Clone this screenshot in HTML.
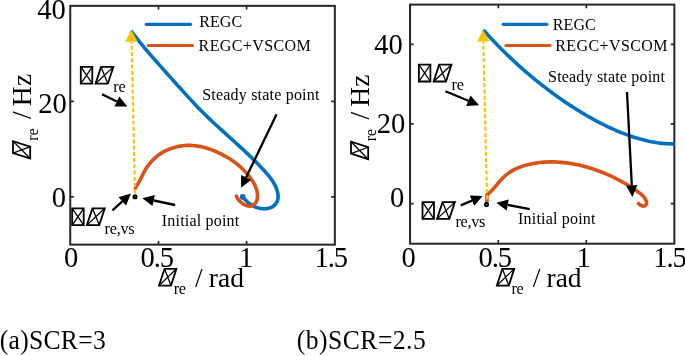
<!DOCTYPE html>
<html><head><meta charset="utf-8"><title>figure</title>
<style>
html,body{margin:0;padding:0;background:#fff;}
svg{display:block;}
text{font-family:"Liberation Serif",serif;fill:#000;}
</style></head>
<body>
<svg width="685" height="356" viewBox="0 0 685 356">
<rect width="685" height="356" fill="#fff"/>
<rect x="70.25" y="5.85" width="264.6" height="238.8" fill="none" stroke="#262626" stroke-width="2"/>
<path d="M158.5,244.6v-3.6M158.5,5.85v3.6" stroke="#262626" stroke-width="1.7" fill="none"/>
<path d="M246.6,244.6v-3.6M246.6,5.85v3.6" stroke="#262626" stroke-width="1.7" fill="none"/>
<path d="M70.25,101.3h3.6M334.8,101.3h-3.6" stroke="#262626" stroke-width="1.7" fill="none"/>
<path d="M70.25,196.9h3.6M334.8,196.9h-3.6" stroke="#262626" stroke-width="1.7" fill="none"/>
<path d="M130.9,30.8L133.0,33.5L135.1,36.2L137.2,38.9L139.3,41.6L141.5,44.2L143.7,46.8L145.9,49.5L148.1,52.1L150.3,54.6L152.5,57.2L154.8,59.8L157.0,62.3L159.3,64.9L161.6,67.4L163.8,70.0L166.1,72.5L168.4,75.1L170.7,77.6L172.9,80.2L175.2,82.7L177.5,85.2L179.8,87.8L182.1,90.3L184.4,92.9L186.7,95.4L189.0,97.9L191.3,100.4L193.6,102.9L196.0,105.4L198.4,107.9L200.7,110.3L203.2,112.7L205.6,115.1L208.0,117.5L210.5,119.9L213.0,122.2L215.5,124.5L218.0,126.8L220.5,129.1L223.0,131.4L225.6,133.7L228.1,136.0L230.6,138.3L233.2,140.5L235.7,142.8L238.2,145.1L240.7,147.4L243.3,149.7L245.7,152.1L248.2,154.4L250.7,156.8L253.1,159.2L255.6,161.6L258.0,164.0L260.3,166.5L262.7,169.0L265.0,171.5L267.3,174.1L269.5,176.7L271.5,179.5L273.4,182.3L275.1,185.3L276.4,188.4L277.5,191.8L278.1,195.2L278.0,198.6L277.0,201.8L275.2,204.5L272.7,206.6L269.6,208.1L266.2,208.8L262.8,208.8L259.4,208.3L256.1,207.3L252.9,205.8L250.0,204.0L247.3,201.8L244.9,199.4L242.8,196.9" stroke="#0072BD" stroke-width="3.6" fill="none" stroke-linecap="butt" stroke-linejoin="round"/>
<circle cx="242.7" cy="196.9" r="2.8" fill="#0072BD"/>
<path d="M135.3,188.6L136.3,186.3L137.7,184.2L139.0,182.1L140.2,179.9L141.3,177.7L142.4,175.4L143.5,173.2L144.6,170.9L145.9,168.8L147.3,166.7L148.7,164.7L150.3,162.8L151.9,160.9L153.7,159.2L155.5,157.5L157.4,155.9L159.4,154.4L161.5,153.1L163.6,151.8L165.8,150.7L168.1,149.6L170.4,148.7L172.8,147.9L175.2,147.2L177.6,146.6L180.1,146.1L182.6,145.8L185.1,145.5L187.6,145.4L190.1,145.4L192.5,145.5L195.0,145.7L197.5,146.1L199.9,146.5L202.3,147.0L204.7,147.6L207.1,148.3L209.5,149.1L211.8,149.9L214.1,150.8L216.5,151.8L218.7,152.8L221.0,153.9L223.2,155.1L225.4,156.3L227.6,157.5L229.7,158.8L231.8,160.2L233.9,161.7L235.9,163.1L237.8,164.7L239.7,166.3L241.6,168.0L243.3,169.7L245.1,171.5L246.7,173.3L248.3,175.2L249.9,177.2L251.3,179.2L252.7,181.3L253.9,183.4L255.1,185.7L256.0,187.9L256.8,190.3L257.3,192.8L257.5,195.3L257.4,197.9L256.9,200.4L255.8,202.7L254.2,204.6L252.2,205.8L249.9,206.3L247.5,205.9L245.0,205.0L242.8,203.7L240.8,202.1L239.0,200.4L237.6,198.4L236.4,196.2" stroke="#D95319" stroke-width="3.6" fill="none" stroke-linecap="round" stroke-linejoin="round"/>
<path d="M135,193.3 L131.6,41.7" stroke="#FFC000" stroke-width="2.1" stroke-dasharray="4.1 2.133" fill="none"/>
<path d="M131.4,29.9 L125.2,41.7 L137.7,41.7 Z" fill="#FFC000"/>
<path d="M146.3,24.3H190.5" stroke="#0072BD" stroke-width="3.2" stroke-linecap="round"/>
<path d="M148.2,45.5H192.5" stroke="#D95319" stroke-width="3.2" stroke-linecap="round"/>
<text transform="translate(199.2 27) scale(0.92 1)" font-size="17.44" textLength="46.74" lengthAdjust="spacing">REGC</text>
<text transform="translate(198.6 50.7) scale(0.92 1)" font-size="17.44" textLength="121.96" lengthAdjust="spacing">REGC+VSCOM</text>
<circle cx="135" cy="196.8" r="1.5" fill="#fff" stroke="#000" stroke-width="2.1"/>
<path d="M112.5,210.3L122.3,201.4" stroke="#000" stroke-width="2.3" fill="none"/>
<path d="M130.9,193.6L126.1,205.5L118.5,197.2Z" fill="#000"/>
<path d="M175.2,205.0L153.7,200.5" stroke="#000" stroke-width="2.3" fill="none"/>
<path d="M142.3,198.2L154.8,195.1L152.5,206.0Z" fill="#000"/>
<text transform="translate(161.8 226) scale(0.92 1)" font-size="17.44" textLength="84.13" lengthAdjust="spacing">Initial point</text>
<text transform="translate(202.2 99.9) scale(0.92 1)" font-size="17.44" textLength="127.39" lengthAdjust="spacing">Steady state point</text>
<path d="M276.6,114.2L246.1,177.4" stroke="#000" stroke-width="2.3" fill="none"/>
<path d="M241.1,187.8L241.1,174.9L251.2,179.8Z" fill="#000"/>
<path d="M80.80,83.70 L92.30,83.70 L92.30,66.90 L80.80,66.90Z" fill="none" stroke="#000" stroke-width="1.8" stroke-linejoin="miter"/>
<path d="M80.80,83.70L92.30,66.90M92.30,83.70L80.80,66.90" fill="none" stroke="#000" stroke-width="1.3"/>
<path d="M95.54,83.70 L107.85,83.70 L113.36,66.90 L101.05,66.90Z" fill="none" stroke="#000" stroke-width="1.8" stroke-linejoin="miter"/>
<path d="M95.54,83.70L113.36,66.90M107.85,83.70L101.05,66.90" fill="none" stroke="#000" stroke-width="1.3"/>
<text transform="translate(113.3 92.1) scale(1.0 1)" font-size="16.30" textLength="12.40" lengthAdjust="spacing">re</text>
<path d="M102.0,94.3L116.9,101.5" stroke="#000" stroke-width="2.3" fill="none"/>
<path d="M127.3,106.6L114.4,106.6L119.3,96.5Z" fill="#000"/>
<path d="M72.20,225.10 L83.70,225.10 L83.70,208.30 L72.20,208.30Z" fill="none" stroke="#000" stroke-width="1.8" stroke-linejoin="miter"/>
<path d="M72.20,225.10L83.70,208.30M83.70,225.10L72.20,208.30" fill="none" stroke="#000" stroke-width="1.3"/>
<path d="M86.94,225.10 L99.25,225.10 L104.76,208.30 L92.45,208.30Z" fill="none" stroke="#000" stroke-width="1.8" stroke-linejoin="miter"/>
<path d="M86.94,225.10L104.76,208.30M99.25,225.10L92.45,208.30" fill="none" stroke="#000" stroke-width="1.3"/>
<text transform="translate(104.5 233.9) scale(1.0 1)" font-size="16.30" textLength="30.20" lengthAdjust="spacing">re,vs</text>
<text transform="translate(65.7 18.7) scale(0.98 1)" font-size="29.17" text-anchor="end">40</text>
<text transform="translate(66.9 112.8) scale(0.98 1)" font-size="29.17" text-anchor="end">20</text>
<text transform="translate(66.1 207.1) scale(0.98 1)" font-size="29.17" text-anchor="end">0</text>
<text transform="translate(71.2 266.8) scale(0.98 1)" font-size="29.17" text-anchor="middle">0</text>
<text transform="translate(157.3 266.9) scale(0.98 1)" font-size="29.17" text-anchor="middle" textLength="34.18" lengthAdjust="spacing">0.5</text>
<text transform="translate(246.1 266.7) scale(0.98 1)" font-size="29.17" text-anchor="middle">1</text>
<text transform="translate(331.2 266.9) scale(0.98 1)" font-size="29.17" text-anchor="middle" textLength="34.18" lengthAdjust="spacing">1.5</text>
<path d="M159.04,285.60 L170.95,285.60 L176.46,268.80 L164.55,268.80Z" fill="none" stroke="#000" stroke-width="1.8" stroke-linejoin="miter"/>
<path d="M159.04,285.60L176.46,268.80M170.95,285.60L164.55,268.80" fill="none" stroke="#000" stroke-width="1.3"/>
<text transform="translate(173.7 293.8) scale(1.0 1)" font-size="16.30" textLength="12.40" lengthAdjust="spacing">re</text>
<text transform="translate(194.9 286.8) scale(0.98 1)" font-size="28.00">/</text>
<text transform="translate(208.8 286.8) scale(0.98 1)" font-size="28.00" textLength="35.82" lengthAdjust="spacing">rad</text>
<g transform="translate(31.1,159.8) rotate(-90)">
<path d="M1.23,-0.90 L13.14,-0.90 L18.67,-18.10 L6.76,-18.10Z" fill="none" stroke="#000" stroke-width="1.8" stroke-linejoin="miter"/>
<path d="M1.23,-0.90L18.67,-18.10M13.14,-0.90L6.76,-18.10" fill="none" stroke="#000" stroke-width="1.3"/>
<text transform="translate(19.1 7.2) scale(1.0 1)" font-size="16.30" textLength="12.40" lengthAdjust="spacing">re</text>
<text transform="translate(40.9 0.3) scale(0.98 1)" font-size="28.00">/</text>
<text transform="translate(53.6 0.3) scale(0.98 1)" font-size="28.00" textLength="32.96" lengthAdjust="spacing">Hz</text>
</g>
<rect x="410.05" y="4.6" width="264.3" height="239.1" fill="none" stroke="#262626" stroke-width="2"/>
<path d="M498.3,243.7v-3.6M498.3,4.6v3.6" stroke="#262626" stroke-width="1.7" fill="none"/>
<path d="M586.3,243.7v-3.6M586.3,4.6v3.6" stroke="#262626" stroke-width="1.7" fill="none"/>
<path d="M410.05,44.4h3.6M674.4,44.4h-3.6" stroke="#262626" stroke-width="1.7" fill="none"/>
<path d="M410.05,123.9h3.6M674.4,123.9h-3.6" stroke="#262626" stroke-width="1.7" fill="none"/>
<path d="M410.05,203.6h3.6M674.4,203.6h-3.6" stroke="#262626" stroke-width="1.7" fill="none"/>
<path d="M483.3,29.9L485.2,32.0L487.2,34.1L489.1,36.3L491.1,38.4L493.1,40.5L495.0,42.6L497.1,44.7L499.1,46.7L501.1,48.8L503.1,50.8L505.2,52.8L507.3,54.9L509.4,56.9L511.5,58.8L513.6,60.8L515.7,62.8L517.8,64.7L520.0,66.6L522.1,68.6L524.3,70.5L526.5,72.3L528.7,74.2L530.9,76.1L533.1,77.9L535.3,79.8L537.6,81.6L539.8,83.4L542.1,85.2L544.4,86.9L546.7,88.7L549.0,90.4L551.3,92.2L553.6,93.9L556.0,95.6L558.3,97.2L560.7,98.9L563.1,100.5L565.4,102.2L567.8,103.8L570.2,105.4L572.7,106.9L575.1,108.5L577.5,110.0L580.0,111.6L582.5,113.1L584.9,114.5L587.4,116.0L589.9,117.4L592.5,118.8L595.0,120.2L597.5,121.6L600.1,122.9L602.7,124.2L605.3,125.5L607.9,126.8L610.5,128.0L613.1,129.2L615.8,130.3L618.4,131.5L621.1,132.6L623.8,133.6L626.5,134.6L629.2,135.6L631.9,136.6L634.7,137.4L637.4,138.3L640.2,139.1L643.0,139.8L645.8,140.5L648.6,141.2L651.4,141.7L654.3,142.2L657.1,142.7L660.0,143.1L662.9,143.4L665.7,143.6L668.6,143.8L671.5,143.9L674.4,143.9" stroke="#0072BD" stroke-width="3.6" fill="none" stroke-linecap="butt" stroke-linejoin="round"/>
<path d="M486.9,202.3L486.9,195" stroke="#D95319" stroke-width="3.6" fill="none" stroke-linecap="round"/>
<path d="M486.9,195.0L488.8,193.5L490.5,191.8L492.2,190.0L493.9,188.2L495.5,186.3L497.1,184.4L498.7,182.5L500.4,180.6L502.1,178.8L503.8,177.0L505.6,175.4L507.5,173.9L509.5,172.4L511.6,171.1L513.7,169.9L515.9,168.9L518.1,167.9L520.4,167.0L522.7,166.1L525.0,165.4L527.4,164.8L529.8,164.2L532.2,163.7L534.6,163.2L537.1,162.9L539.5,162.5L542.0,162.3L544.4,162.1L546.9,162.0L549.3,161.9L551.8,161.9L554.3,161.9L556.7,162.0L559.2,162.2L561.6,162.4L564.1,162.6L566.5,162.9L569.0,163.2L571.4,163.6L573.8,164.1L576.2,164.5L578.6,165.0L581.0,165.6L583.4,166.2L585.8,166.8L588.1,167.5L590.5,168.2L592.8,168.9L595.1,169.7L597.4,170.5L599.7,171.4L602.0,172.2L604.3,173.2L606.6,174.1L608.8,175.1L611.1,176.2L613.3,177.2L615.5,178.3L617.7,179.5L619.9,180.6L622.1,181.8L624.2,183.0L626.4,184.3L628.5,185.5L630.5,186.8L632.6,188.1L634.6,189.5L636.6,190.8L638.5,192.2L640.4,193.7L642.3,195.3L644.1,197.3L645.6,199.5L646.6,201.8L646.5,204.0L645.1,205.8L642.8,206.2L640.3,205.1L638.5,203.5" stroke="#D95319" stroke-width="3.6" fill="none" stroke-linecap="round" stroke-linejoin="round"/>
<path d="M487,199.4 L483.3,41.6" stroke="#FFC000" stroke-width="2.1" stroke-dasharray="4.1 2.133" fill="none"/>
<path d="M483.2,30 L477,41.6 L489.5,41.6 Z" fill="#FFC000"/>
<path d="M503.3,24.3H546.8" stroke="#0072BD" stroke-width="3.2" stroke-linecap="round"/>
<path d="M506,45.5H550" stroke="#D95319" stroke-width="3.2" stroke-linecap="round"/>
<text transform="translate(552.8 29.9) scale(0.92 1)" font-size="17.44" textLength="46.74" lengthAdjust="spacing">REGC</text>
<text transform="translate(555.3 50.5) scale(0.92 1)" font-size="17.44" textLength="122.07" lengthAdjust="spacing">REGC+VSCOM</text>
<circle cx="486.5" cy="204.5" r="1.5" fill="#fff" stroke="#000" stroke-width="2.1"/>
<path d="M460.8,205.4L472.0,200.6" stroke="#000" stroke-width="2.3" fill="none"/>
<path d="M482.7,196.1L474.2,205.8L469.8,195.5Z" fill="#000"/>
<path d="M529.8,209.1L507.7,204.9" stroke="#000" stroke-width="2.3" fill="none"/>
<path d="M496.3,202.8L508.7,199.4L506.7,210.4Z" fill="#000"/>
<text transform="translate(518.1 224) scale(0.92 1)" font-size="17.44" textLength="84.13" lengthAdjust="spacing">Initial point</text>
<text transform="translate(548.1 82.2) scale(0.92 1)" font-size="17.44" textLength="126.96" lengthAdjust="spacing">Steady state point</text>
<path d="M627.0,92.0L631.8,185.4" stroke="#000" stroke-width="2.3" fill="none"/>
<path d="M632.4,197.0L626.2,185.7L637.4,185.1Z" fill="#000"/>
<path d="M418.90,81.50 L430.40,81.50 L430.40,64.70 L418.90,64.70Z" fill="none" stroke="#000" stroke-width="1.8" stroke-linejoin="miter"/>
<path d="M418.90,81.50L430.40,64.70M430.40,81.50L418.90,64.70" fill="none" stroke="#000" stroke-width="1.3"/>
<path d="M433.64,81.50 L445.95,81.50 L451.46,64.70 L439.15,64.70Z" fill="none" stroke="#000" stroke-width="1.8" stroke-linejoin="miter"/>
<path d="M433.64,81.50L451.46,64.70M445.95,81.50L439.15,64.70" fill="none" stroke="#000" stroke-width="1.3"/>
<text transform="translate(451.6 90.4) scale(1.0 1)" font-size="16.30" textLength="12.40" lengthAdjust="spacing">re</text>
<path d="M445.4,91.2L468.4,100.7" stroke="#000" stroke-width="2.3" fill="none"/>
<path d="M479.1,105.2L466.2,105.9L470.5,95.6Z" fill="#000"/>
<path d="M422.50,218.90 L434.00,218.90 L434.00,202.10 L422.50,202.10Z" fill="none" stroke="#000" stroke-width="1.8" stroke-linejoin="miter"/>
<path d="M422.50,218.90L434.00,202.10M434.00,218.90L422.50,202.10" fill="none" stroke="#000" stroke-width="1.3"/>
<path d="M437.04,218.90 L449.35,218.90 L454.86,202.10 L442.55,202.10Z" fill="none" stroke="#000" stroke-width="1.8" stroke-linejoin="miter"/>
<path d="M437.04,218.90L454.86,202.10M449.35,218.90L442.55,202.10" fill="none" stroke="#000" stroke-width="1.3"/>
<text transform="translate(455.4 227.2) scale(1.0 1)" font-size="16.30" textLength="30.00" lengthAdjust="spacing">re,vs</text>
<text transform="translate(402.7 53.8) scale(0.98 1)" font-size="29.17" text-anchor="end">40</text>
<text transform="translate(405.2 132.6) scale(0.98 1)" font-size="29.17" text-anchor="end">20</text>
<text transform="translate(404.4 207.1) scale(0.98 1)" font-size="29.17" text-anchor="end">0</text>
<text transform="translate(408.6 266.8) scale(0.98 1)" font-size="29.17" text-anchor="middle">0</text>
<text transform="translate(495.3 266.9) scale(0.98 1)" font-size="29.17" text-anchor="middle" textLength="34.18" lengthAdjust="spacing">0.5</text>
<text transform="translate(583.7 266.7) scale(0.98 1)" font-size="29.17" text-anchor="middle">1</text>
<text transform="translate(670 266.9) scale(0.98 1)" font-size="29.17" text-anchor="middle" textLength="34.18" lengthAdjust="spacing">1.5</text>
<path d="M496.84,285.60 L508.75,285.60 L514.26,268.80 L502.35,268.80Z" fill="none" stroke="#000" stroke-width="1.8" stroke-linejoin="miter"/>
<path d="M496.84,285.60L514.26,268.80M508.75,285.60L502.35,268.80" fill="none" stroke="#000" stroke-width="1.3"/>
<text transform="translate(511.4 293.8) scale(1.0 1)" font-size="16.30" textLength="12.40" lengthAdjust="spacing">re</text>
<text transform="translate(532.8 286.8) scale(0.98 1)" font-size="28.00">/</text>
<text transform="translate(546.5 286.8) scale(0.98 1)" font-size="28.00" textLength="35.82" lengthAdjust="spacing">rad</text>
<g transform="translate(369.1,160.4) rotate(-90)">
<path d="M1.23,-0.90 L13.14,-0.90 L18.67,-18.10 L6.76,-18.10Z" fill="none" stroke="#000" stroke-width="1.8" stroke-linejoin="miter"/>
<path d="M1.23,-0.90L18.67,-18.10M13.14,-0.90L6.76,-18.10" fill="none" stroke="#000" stroke-width="1.3"/>
<text transform="translate(19.1 7.2) scale(1.0 1)" font-size="16.30" textLength="12.40" lengthAdjust="spacing">re</text>
<text transform="translate(40.9 0.3) scale(0.98 1)" font-size="28.00">/</text>
<text transform="translate(53.6 0.3) scale(0.98 1)" font-size="28.00" textLength="32.96" lengthAdjust="spacing">Hz</text>
</g>
<text transform="translate(-0.3 349.3) scale(0.92 1)" font-size="27.82" textLength="115.22" lengthAdjust="spacing">(a)SCR=3</text>
<text transform="translate(296.8 349.3) scale(0.92 1)" font-size="27.82" textLength="140.22" lengthAdjust="spacing">(b)SCR=2.5</text>
</svg>
</body></html>
